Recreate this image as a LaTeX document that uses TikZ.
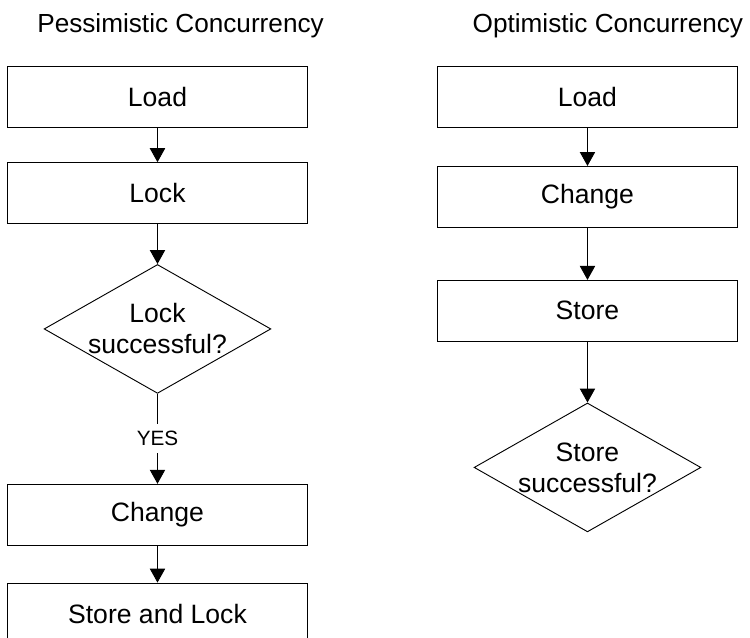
\documentclass[tikz,border=0pt]{standalone}
\usepackage{fontspec}
\setmainfont{Liberation Sans}
\usepackage{tikz}
\usetikzlibrary{shapes.geometric, arrows.meta, positioning}
\tikzset{
    stepbox/.style={rectangle, draw, line width=0.7pt, minimum width=7.96cm, minimum height=1.61cm, font=\fontsize{20}{23.4}\selectfont},
    decision/.style={diamond, draw, line width=0.7pt, shape aspect=1.76, minimum width=6.0cm, minimum height=3.41cm, inner sep=-4pt, align=center, font=\fontsize{20}{23.4}\selectfont},
    heading/.style={inner sep=0pt, text depth=0pt, font=\fontsize{19.7}{23.4}\selectfont},
    line/.style={draw, line width=0.7pt, -{Triangle[width=11.5pt,length=10.5pt]}},
    yesLabel/.style={fill=white, inner sep=5.5pt, font=\fontsize{15.6}{18.7}\selectfont}
}

\begin{document}
\begin{tikzpicture}
    \useasboundingbox (0,0) rectangle (19.844,-16.880);

    % Pessimistic column
    \node [stepbox] (loadP) at (4.167,-2.574) {Load};
    \node [heading, above=0.9cm of loadP, xshift=0.61cm] (titleP) {Pessimistic Concurrency};
    \node [stepbox, below=0.9cm of loadP] (lockP) {Lock};
    \node [decision, below=1.06cm of lockP] (lockok) {Lock\\successful?};
    \node [stepbox, below=2.38cm of lockok] (changeP) {Change};
    \node [stepbox, below=0.98cm of changeP] (storeP) {Store and Lock};

    % Optimistic column
    \node [stepbox] (loadO) at (15.544,-2.574) {Load};
    \node [heading, above=0.9cm of loadO, xshift=0.54cm] (titleO) {Optimistic Concurrency};
    \node [stepbox, below=1.0cm of loadO] (changeO) {Change};
    \node [stepbox, below=1.38cm of changeO] (storeO) {Store};
    \node [decision, below=1.61cm of storeO] (storeok) {Store\\successful?};

    % Paths
    \path [line] (loadP) -- (lockP);
    \path [line] (lockP) -- (lockok);
    \path [line] (lockok) -- node [yesLabel] {YES} (changeP);
    \path [line] (changeP) -- (storeP);

    \path [line] (loadO) -- (changeO);
    \path [line] (changeO) -- (storeO);
    \path [line] (storeO) -- (storeok);
\end{tikzpicture}
\end{document}
